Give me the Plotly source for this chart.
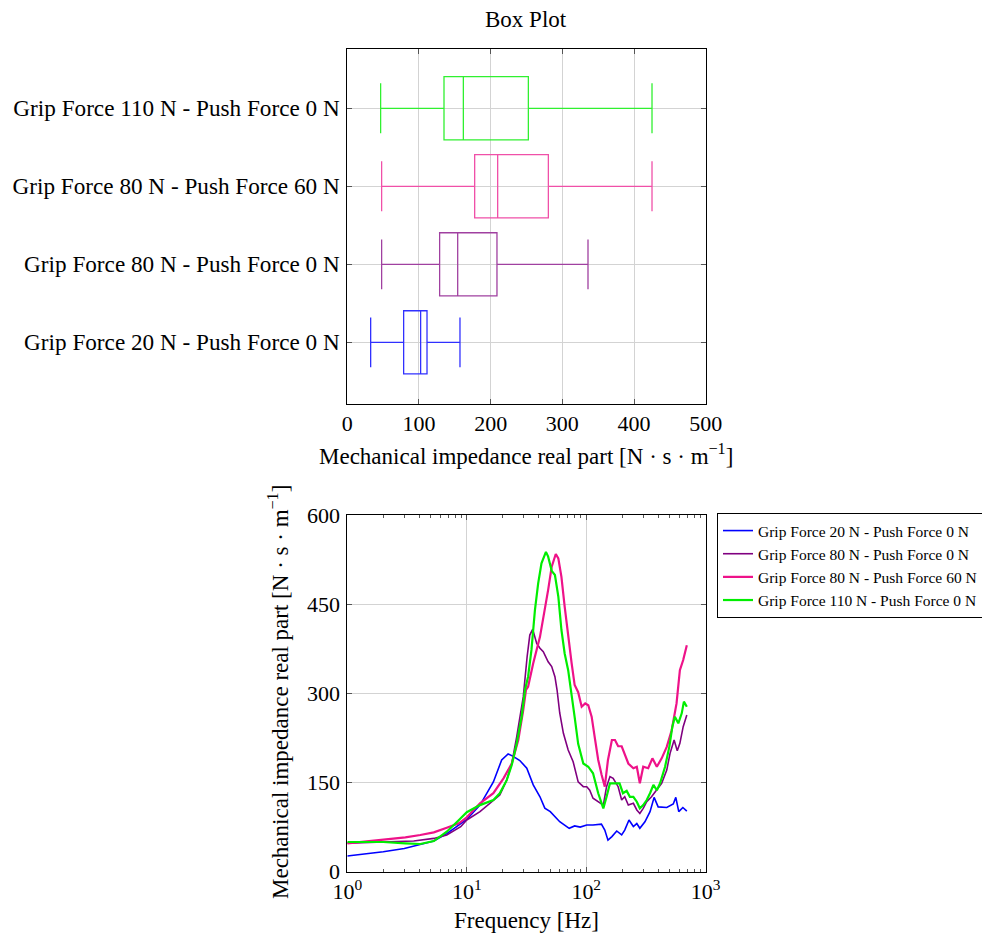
import plotly.graph_objects as go

FONT = "Liberation Serif, Times New Roman, DejaVu Serif, serif"

# ---------------- Box plot data ----------------
box_labels = [
    "Grip Force 20 N - Push Force 0 N",
    "Grip Force 80 N - Push Force 0 N",
    "Grip Force 80 N - Push Force 60 N",
    "Grip Force 110 N - Push Force 0 N",
]
box_low = [32.6, 47.9, 47.9, 46.5]
box_q1 = [78.6, 128.8, 177.7, 134.9]
box_med = [102.3, 154.0, 209.8, 161.9]
box_q3 = [111.2, 208.8, 280.5, 252.6]
box_high = [157.2, 335.8, 425.1, 425.1]

colors = ["#0000ff", "#800080", "#ee1289", "#00ee00"]
box_colors = ["#3030ff", "#a040a0", "#f050a8", "#30f030"]

# ---------------- Frequency response data ----------------
f_20_0 = [1, 2, 3, 4, 5.3, 6.8, 8.6, 10, 12.9, 16.7, 19.6, 22.2, 24.5, 27.8, 31.8, 36, 41, 45, 50,
          60, 72, 80, 89, 101, 114, 134, 143, 152, 164, 180, 198, 210, 228, 248, 265, 281, 310, 342,
          370, 400, 472, 535, 562, 595, 644, 695]
z_20_0 = [26.5, 33.5, 39, 46, 51.6, 64, 78.5, 88, 112, 151, 188, 198, 194, 187, 174, 146, 126, 107, 101,
          84, 73, 77, 75, 78.5, 78.5, 80, 70, 53, 59, 68.5, 62, 70, 87, 76, 81, 73, 84, 101,
          125, 109, 108, 114, 125, 101, 108, 102]

f_80_0 = [1, 2, 3.6, 5.3, 6.8, 8.9, 10, 12.9, 16.7, 18.9, 21.6, 23.8, 26.2, 28.8, 29.7, 32, 33.7, 35.6,
          38.5, 41, 43.7, 48, 51.4, 54.7, 57, 60, 64.4, 70.6, 77.7, 85.6, 94.5, 101, 107, 114, 126, 139,
          148, 158, 168, 185, 198, 210, 225, 248, 265, 281, 300, 321, 352, 390, 428, 472, 503, 544, 578,
          608, 648, 695]
z_80_0 = [48, 49.5, 51.6, 56, 61.7, 75.7, 87, 101, 120.6, 129, 154, 182, 227, 283, 294, 361.6, 398, 407.7,
          384, 375.8, 370, 353, 345, 328, 305.6, 267, 232.8, 204.7, 185, 151, 143, 143, 137, 123.5, 117.7, 112,
          143, 160, 157, 143, 120.6, 126, 112, 115, 103.8, 98, 106.6, 117.7, 126, 137, 148.7, 171, 199, 221.5, 203.5,
          216, 244, 263.6]

f_80_60 = [1, 2, 3.06, 4.08, 5.3, 6.8, 8.6, 10, 12.9, 16.7, 20.3, 23.8, 27, 29.7, 31.3, 32.6, 36, 41, 45,
           48, 51.4, 55.6, 58.4, 62, 66, 70.6, 75.5, 80, 85.6, 91.6, 98, 104, 111, 118, 126, 134.6, 143,
           152, 164, 174, 185, 198, 210, 225, 248, 265, 281, 300, 330, 358, 390, 428, 472, 519, 570, 608,
           648, 695]
z_80_60 = [47.7, 53.3, 57.8, 61.7, 66.2, 74, 81.4, 91.5, 115, 132, 157, 182, 221.5, 272, 305.6, 311, 350.5, 395, 440,
           474, 513, 534.4, 527, 496, 446, 395, 350.5, 314, 302, 277.5, 283, 280, 260.7, 225, 188, 162.7, 143,
           188, 221.5, 221.5, 211, 211, 196, 182, 174, 176.6, 148.7, 176.6, 174, 190.7, 176.6, 190.7, 210, 238, 283, 339,
           356, 381]

f_110_0 = [1, 2, 3.06, 4.08, 5.3, 6.8, 8.6, 10, 12.9, 16.7, 18.9, 21.6, 23.8, 26.2, 28.8, 30.7, 32.6, 34.8,
           37.2, 39.6, 42.2, 46, 48, 51.4, 54.7, 58.4, 62, 66, 70.6, 75.5, 80, 85.6, 89, 94.5, 104, 114, 126,
           139, 148, 158, 174, 190, 203, 218, 232, 248, 265, 281, 300, 321, 342, 365, 390, 415, 457, 496,
           526, 552, 590, 630, 657, 695]
z_110_0 = [50, 50, 47.7, 46.6, 51.6, 67.3, 87, 100, 112, 120.6, 132, 154, 179.5, 216, 260.7, 305.6, 328, 373,
           440, 485, 518.8, 538, 530, 506, 499, 462.6, 406.6, 367, 339, 300, 260, 215, 202, 182, 176.6, 165.5, 132,
           106.6, 126, 148.7, 148.7, 148.7, 132, 136, 126, 126, 117.7, 106.6, 112, 120.6, 132, 146, 137, 148.7, 176.6, 210,
           244, 260.7, 249.6, 266.4, 286, 277.5]

series = [
    ("Grip Force 20 N - Push Force 0 N", f_20_0, z_20_0, colors[0], 1.6),
    ("Grip Force 80 N - Push Force 0 N", f_80_0, z_80_0, colors[1], 1.6),
    ("Grip Force 80 N - Push Force 60 N", f_80_60, z_80_60, colors[2], 2.2),
    ("Grip Force 110 N - Push Force 0 N", f_110_0, z_110_0, colors[3], 2.2),
]

fig = go.Figure()

for i, lab in enumerate(box_labels):
    fig.add_trace(go.Box(
        y=[lab], q1=[box_q1[i]], median=[box_med[i]], q3=[box_q3[i]],
        lowerfence=[box_low[i]], upperfence=[box_high[i]],
        orientation="h", boxpoints=False, whiskerwidth=0.79,
        line=dict(color=box_colors[i], width=1.3), fillcolor="rgba(0,0,0,0)",
        showlegend=False, hoverinfo="skip", xaxis="x", yaxis="y",
    ))

for name, f, z, c, w in series:
    fig.add_trace(go.Scatter(
        x=f, y=z, mode="lines", name=name, line=dict(color=c, width=w),
        xaxis="x2", yaxis="y2",
    ))

xdom = [347.3 / 982, 705.7 / 982]
grid = "#d3d3d3"
tickc = "#555555"


def axis_common(size=22):
    return dict(showline=True, linecolor="black", linewidth=1, mirror="ticks",
                ticks="inside", tickcolor=tickc, ticklen=5, gridcolor=grid, gridwidth=1,
                zeroline=False, tickfont=dict(family=FONT, size=size, color="black"))


fig.update_layout(
    width=982, height=935,
    margin=dict(l=0, r=0, t=0, b=0, autoexpand=False),
    paper_bgcolor="white", plot_bgcolor="white",
    font=dict(family=FONT, color="black"),
    boxgap=0.19, boxgroupgap=0,
    xaxis=dict(domain=xdom, anchor="y", range=[0, 500], tickvals=[0, 100, 200, 300, 400, 500],
               **axis_common(22)),
    yaxis=dict(domain=[1 - 404 / 935, 1 - 49 / 935], anchor="x", type="category",
               categoryorder="array", categoryarray=box_labels, range=[-0.79, 3.76],
               ticklabelstandoff=2, **axis_common(23.2)),
    xaxis2=dict(domain=xdom, anchor="y2", type="log", range=[0, 3],
                tickvals=[1, 10, 100, 1000],
                ticktext=["10<sup>0</sup>", "10<sup>1</sup>", "10<sup>2</sup>", "10<sup>3</sup>"],
                minor=dict(tickvals=[2, 3, 4, 5, 6, 7, 8, 9, 20, 30, 40, 50, 60, 70, 80, 90,
                                     200, 300, 400, 500, 600, 700, 800, 900],
                           ticks="inside", ticklen=3, tickcolor=tickc, showgrid=False),
                **axis_common(22)),
    yaxis2=dict(domain=[1 - 871.7 / 935, 1 - 515 / 935], anchor="x2", range=[0, 600],
                tickvals=[0, 150, 300, 450, 600], ticklabelstandoff=2, **axis_common(22)),
    legend=dict(x=717 / 982, y=1 - 513 / 935, xanchor="left", yanchor="top",
                bordercolor="black", borderwidth=1, bgcolor="white",
                font=dict(family=FONT, size=15.5, color="black"), tracegroupgap=0),
    annotations=[
        dict(text="Box Plot", x=526 / 982, y=1 - 20 / 935, xref="paper", yref="paper",
             showarrow=False, font=dict(family=FONT, size=23), xanchor="center", yanchor="middle"),
        dict(text="Mechanical impedance real part [N · s · m<sup>−1</sup>]", x=526 / 982, y=1 - 455 / 935,
             xref="paper", yref="paper", showarrow=False, font=dict(family=FONT, size=23),
             xanchor="center", yanchor="middle"),
        dict(text="Frequency [Hz]", x=526 / 982, y=1 - 920 / 935, xref="paper", yref="paper",
             showarrow=False, font=dict(family=FONT, size=23), xanchor="center", yanchor="middle"),
        dict(text="Mechanical impedance real part [N · s · m<sup>−1</sup>]", x=278 / 982, y=1 - 692 / 935,
             xref="paper", yref="paper", showarrow=False, textangle=-90, font=dict(family=FONT, size=23),
             xanchor="center", yanchor="middle"),
    ],
)

fig.write_html("out.html")
